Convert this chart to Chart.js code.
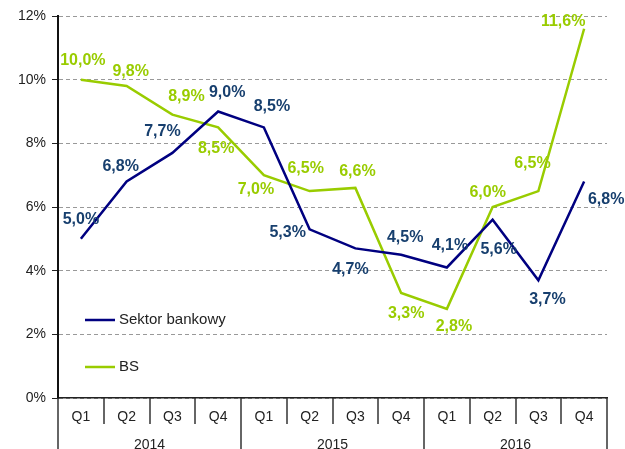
<!DOCTYPE html>
<html>
<head>
<meta charset="utf-8">
<script src="https://cdn.jsdelivr.net/npm/chart.js@4.4.1/dist/chart.umd.min.js"></script>
<style>
  body { margin: 0; background: #fff; }
</style>
</head>
<body>
<canvas id="wykres" width="625" height="449"></canvas>
<script>
// Dane
const kwartaly = ['Q1', 'Q2', 'Q3', 'Q4', 'Q1', 'Q2', 'Q3', 'Q4', 'Q1', 'Q2', 'Q3', 'Q4'];
const lata = ['2014', '2015', '2016'];
const sektorBankowy = [5.0, 6.8, 7.7, 9.0, 8.5, 5.3, 4.7, 4.5, 4.1, 5.6, 3.7, 6.8];
const bs = [10.0, 9.8, 8.9, 8.5, 7.0, 6.5, 6.6, 3.3, 2.8, 6.0, 6.5, 11.6];
const osY = [0, 2, 4, 6, 8, 10, 12];

// Przesunięcia etykiet względem punktów (px)
const etykietyBank = [[0, -19], [-6, -15], [-10, -21], [9, -19], [8, -21], [-22, 3],
                      [-5, 21], [4, -17], [3, -22], [6, 30], [9, 19], [22, 18]];
const etykietyBS = [[2, -19], [4, -14], [14, -18], [-2, 21], [-8, 14], [-4, -22],
                    [2, -16], [5, 21], [7, 18], [-5, -14], [-6, -27], [-21, -7]];

const FONT = "'Liberation Sans', Arial, sans-serif";

function fmt(v) {
    return v.toFixed(1).replace('.', ',') + '%';
}

// Etykiety wartości przy punktach
const etykietyPlugin = {
    id: 'etykiety',
    afterDatasetsDraw(chart) {
        const ctx = chart.ctx;
        ctx.save();
        ctx.font = 'bold 16px ' + FONT;
        ctx.textAlign = 'center';
        ctx.textBaseline = 'middle';
        chart.data.datasets.forEach((ds, i) => {
            const meta = chart.getDatasetMeta(i);
            ctx.fillStyle = ds.labelColor;
            meta.data.forEach((pt, j) => {
                const off = ds.labelOffsets[j];
                ctx.fillText(fmt(ds.data[j]), pt.x + off[0], pt.y + off[1]);
            });
        });
        ctx.restore();
    }
};

// Tabela pod osią X (kwartały i lata) + legenda
const tabelaPlugin = {
    id: 'tabela',
    afterDraw(chart) {
        const ctx = chart.ctx;
        const x = chart.scales.x;
        const area = chart.chartArea;
        const bottom = area.bottom;
        const step = x.getPixelForValue(1) - x.getPixelForValue(0);
        ctx.save();
        ctx.strokeStyle = '#333';
        ctx.lineWidth = 1.5;
        for (let i = 0; i <= kwartaly.length; i++) {
            const px = Math.round(x.getPixelForValue(0) - step / 2 + i * step);
            const dlugi = i % 4 === 0;
            ctx.beginPath();
            ctx.moveTo(px, bottom);
            ctx.lineTo(px, dlugi ? chart.height : bottom + 26);
            ctx.stroke();
        }
        ctx.fillStyle = '#222';
        ctx.font = '14px ' + FONT;
        ctx.textAlign = 'center';
        ctx.textBaseline = 'middle';
        kwartaly.forEach((q, i) => {
            ctx.fillText(q, x.getPixelForValue(i), bottom + 19);
        });
        lata.forEach((r, i) => {
            const c = (x.getPixelForValue(i * 4) + x.getPixelForValue(i * 4 + 3)) / 2;
            ctx.fillText(r, c, bottom + 47);
        });

        // legenda
        ctx.font = '15px ' + FONT;
        ctx.textAlign = 'left';
        ctx.lineWidth = 2.5;
        chart.data.datasets.forEach((ds, i) => {
            const ly = 320 + i * 47;
            ctx.strokeStyle = ds.borderColor;
            ctx.beginPath();
            ctx.moveTo(85, ly);
            ctx.lineTo(115, ly);
            ctx.stroke();
            ctx.fillStyle = '#222';
            ctx.fillText(ds.label, 119, ly);
        });
        ctx.restore();
    }
};

new Chart(document.getElementById('wykres'), {
    type: 'line',
    data: {
        labels: kwartaly,
        datasets: [{
            label: 'Sektor bankowy',
            data: sektorBankowy,
            borderColor: '#000080',
            borderWidth: 2.5,
            pointRadius: 0,
            tension: 0,
            labelColor: '#173F6E',
            labelOffsets: etykietyBank
        }, {
            label: 'BS',
            data: bs,
            borderColor: '#99CC00',
            borderWidth: 2.5,
            pointRadius: 0,
            tension: 0,
            labelColor: '#99CC00',
            labelOffsets: etykietyBS
        }]
    },
    options: {
        responsive: false,
        animation: false,
        layout: { padding: { left: 0, right: 18, top: 16, bottom: 0 } },
        plugins: {
            legend: { display: false },
            tooltip: { enabled: false }
        },
        scales: {
            x: {
                offset: true,
                ticks: { display: false },
                grid: { display: false, offset: true },
                border: { display: true, color: '#222', width: 1.5 },
                afterFit(scale) { scale.height = 51; }
            },
            y: {
                min: osY[0],
                max: osY[osY.length - 1],
                afterBuildTicks(scale) { scale.ticks = osY.map(v => ({ value: v })); },
                ticks: {
                    callback: v => v + '%',
                    color: '#222',
                    padding: 6,
                    font: { family: FONT, size: 14 }
                },
                grid: { color: '#999', lineWidth: 1, tickLength: 6, tickColor: '#222' },
                border: { display: true, color: '#111', width: 2, dash: [4, 3] },
                afterFit(scale) { scale.width = 58; }
            }
        }
    },
    plugins: [etykietyPlugin, tabelaPlugin]
});
</script>
</body>
</html>
